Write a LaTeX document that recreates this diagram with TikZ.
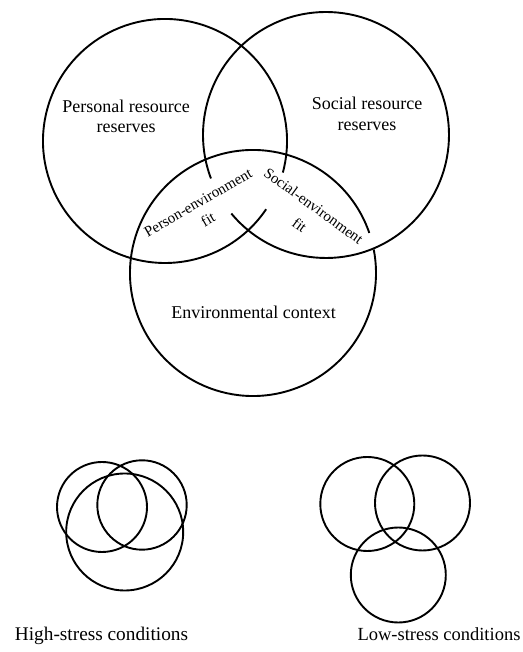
\documentclass[tikz,border=0pt]{standalone}
\usepackage{fontspec}
\setmainfont{Liberation Serif}
\begin{document}
\begin{tikzpicture}[x=1pt,y=1pt,
  ring/.style={line width=1.9pt},
  biglabel/.style={font=\fontsize{18}{20}\selectfont, inner sep=0pt, anchor=base},
  fitlabel/.style={inner sep=0pt, align=center, anchor=center},
  caption/.style={font=\fontsize{18.5}{20}\selectfont, inner sep=0pt, anchor=base}]
\useasboundingbox (0,0) rectangle (522,652);
% big diagram centres
\coordinate (cL) at (165,511);
\coordinate (cR) at (326,517);
\coordinate (cB) at (253,379);
\draw[ring] ([shift={(-15:122)}]cL) arc[start angle=-15, end angle=326, radius=122];
\draw[ring] ([shift={(219.7:123)}]cR) arc[start angle=219.7, end angle=560.7, radius=123];
\draw[ring] ([shift={(19:123)}]cB) arc[start angle=19, end angle=371, radius=123];
% labels
\node[biglabel] (p1) at (126.2,539.7) {Personal resource};
\node[biglabel] (p2) at (126.2,519.7) {reserves};
\node[biglabel] (s1) at (367,542) {Social resource};
\node[biglabel] (s2) at (367,521.3) {reserves};
\node[biglabel] (e1) at (253.7,333.7) {Environmental context};
\node[fitlabel, font=\fontsize{15}{20}\selectfont, rotate=30] (pe) at (203,440.8) {Person-environment\\fit};
\node[fitlabel, font=\fontsize{15}{24}\selectfont, rotate=-36] (se) at (306.7,436.4) {Social-environment\\fit};
% high-stress
\coordinate (hL) at (102,145);
\coordinate (hR) at (142,147);
\coordinate (hB) at (124.7,120);
\draw[ring] (hL) circle[radius=45];
\draw[ring] (hR) circle[radius=44.7];
\draw[ring] (hB) circle[radius=58.5];
% low-stress
\coordinate (lL) at (367.3,148);
\coordinate (lR) at (422.5,149);
\coordinate (lB) at (398.3,77);
\draw[ring] (lL) circle[radius=47];
\draw[ring] (lR) circle[radius=47.5];
\draw[ring] (lB) circle[radius=47.5];
\node[caption, font=\fontsize{19.3}{20}\selectfont] (hc) at (101.5,12) {High-stress conditions};
\node[caption] (lc) at (439,12) {Low-stress conditions};
\end{tikzpicture}
\end{document}
